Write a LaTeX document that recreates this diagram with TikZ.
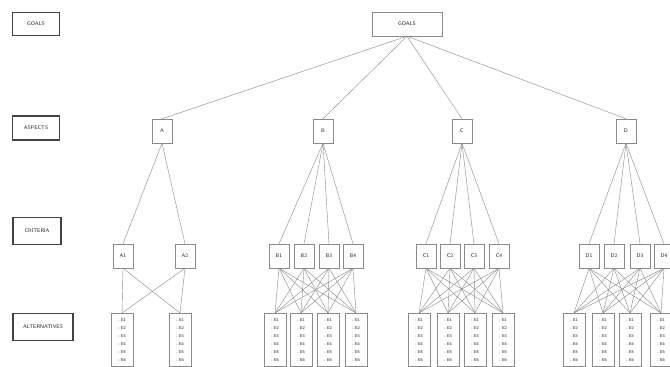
\documentclass[tikz,border=0pt]{standalone}
\usetikzlibrary{positioning}
\definecolor{ahink}{HTML}{222222}
\definecolor{ahgray}{HTML}{8A8A8A}
\tikzset{
  ah text/.style={font=\sffamily\fontsize{4.5}{5.5}\selectfont, text=ahink},
  ah label/.style={draw=ahink!85, line width=0.9pt, inner sep=0pt,
    font=\sffamily\fontsize{4.5}{5.5}\selectfont},
  ah box/.style={draw=ahgray, line width=0.4pt, fill=white, inner sep=0pt,
    minimum width=6mm, minimum height=7.2mm},
  ah alt/.style={draw=ahgray, line width=0.4pt, fill=white, anchor=north,
    inner xsep=1.6pt, inner ysep=4.5pt, minimum width=6.6mm, align=left,
    font=\sffamily\fontsize{3.6}{6.8}\selectfont},
  ah link/.style={draw=ahgray, line width=0.35pt}
}
\newcommand{\altlist}[1]{- #11\\- #12\\- #13\\- #14\\- #15\\- #16}
\begin{document}
\begin{tikzpicture}[ah text, x=0.03cm, y=-0.03cm]
  \clip (0,0) rectangle (670,367);
  % level labels
  \node[ah label, minimum width=14mm, minimum height=7mm] (lgoal) at (36,24) {GOALS};
  \node[ah label, minimum width=14mm, minimum height=7.2mm] (lasp) at (36,128) {ASPECTS};
  \node[ah label, minimum width=14.4mm, minimum height=8mm] (lcrit) at (37,231) {CRITERIA};
  \node[ah label, minimum width=18mm, minimum height=8mm] (lalt) at (43,327) {ALTERNATIVES};
  % hierarchy
  \node[ah box, minimum width=21mm] (goal) at (407,24) {GOALS};
  \foreach \n/\x in {A/162,B/323,C/462,D/626}
    \node[ah box] (asp\n) at (\x,131) {\n};
  \foreach \n/\x in {A1/123,A2/185,B1/279,B2/304,B3/329,B4/353,C1/426,C2/450,C3/474,C4/499,D1/589,D2/614,D3/640,D4/664}
    \node[ah box] (crit\n) at (\x,256) {\n};
  \foreach \n/\x in {A1/122,A2/180,B1/275,B2/301,B3/328,B4/356,C1/419,C2/448,C3/475,C4/503,D1/574,D2/603,D3/630,D4/661}
    \node[ah alt] (alt\n) at (\x,313) {\altlist{E}};
  % links
  \foreach \a in {A,B,C,D}
    \draw[ah link] (goal.south) -- (asp\a.north);
  \foreach \g/\k in {A/2,B/4,C/4,D/4} {
    \foreach \i in {1,...,\k} {
      \draw[ah link] (asp\g.south) -- (crit\g\i.north);
      \foreach \j in {1,...,\k}
        \draw[ah link] (crit\g\i.south) -- (alt\g\j.north);
    }
  }
\end{tikzpicture}
\end{document}
